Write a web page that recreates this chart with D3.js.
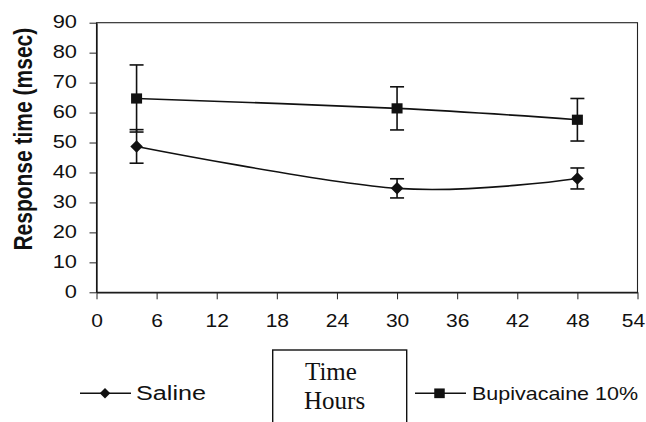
<!DOCTYPE html>
<html><head><meta charset="utf-8">
<script src="https://cdn.jsdelivr.net/npm/d3@7/dist/d3.min.js"></script>
<style>
html,body{margin:0;padding:0;background:#fff;}
svg{display:block;}
</style>
</head><body>
<svg id="chart" width="646" height="422"></svg>
<script>
// ---- data ----
const hours = [4, 30, 48];
const salineMean = [48.7, 34.7, 38.0];
const salineErr = [5.6, 3.2, 3.5];
const bupiMean = [64.7, 61.4, 57.6];
const bupiErr = [11.2, 7.2, 7.1];
const xTicks = [0, 6, 12, 18, 24, 30, 36, 42, 48, 54];
const yTicks = [0, 10, 20, 30, 40, 50, 60, 70, 80, 90];
const seriesNames = ["Saline", "Bupivacaine 10%"];
const xTitleLines = ["Time", "Hours"];
const yTitle = "Response time (msec)";

const svg = d3.select("#chart");
const x = d3.scaleLinear().domain([0, 54]).range([96.5, 637.5]);
const y = d3.scaleLinear().domain([0, 90]).range([292.3, 22.7]);
const SX = 1.25; // horizontal stretch of sans text in the reference

// plot frame
svg.append("rect")
  .attr("x", x(0)).attr("y", y(90))
  .attr("width", x(54) - x(0)).attr("height", y(0) - y(90))
  .attr("fill", "none").attr("stroke", "#222").attr("stroke-width", 1.1);

// y axis
const gy = svg.append("g").attr("transform", `translate(${x(0)},0)`)
  .call(d3.axisLeft(y).tickValues(yTicks).tickSize(7).tickSizeOuter(0));
gy.select(".domain").attr("stroke", "#111").attr("stroke-width", 1.3);
gy.selectAll(".tick line").attr("stroke", "#222").attr("stroke-width", 1);
gy.selectAll(".tick text")
  .attr("x", 0).attr("dy", 0)
  .attr("transform", `translate(-19.5,5.2) scale(${SX},1)`)
  .attr("fill", "#111")
  .style("font-family", "'Liberation Sans', Arial, sans-serif")
  .style("font-size", "17.5px");

// x axis
const gx = svg.append("g").attr("transform", `translate(0,${y(0)})`)
  .call(d3.axisBottom(x).tickValues(xTicks).tickSize(7).tickSizeOuter(0));
gx.select(".domain").attr("stroke", "#111").attr("stroke-width", 1.3);
gx.selectAll(".tick line").attr("stroke", "#222").attr("stroke-width", 1);
gx.selectAll(".tick text")
  .attr("y", 0).attr("dy", 0)
  .attr("transform", d => `translate(${d === 54 ? -4.5 : 0},35) scale(1.2,1)`)
  .attr("fill", "#111")
  .style("font-family", "'Liberation Sans', Arial, sans-serif")
  .style("font-size", "17.5px");

// y title
svg.append("text")
  .attr("transform", `translate(31.5,139.2) scale(1.2,1) rotate(-90)`)
  .attr("text-anchor", "middle")
  .attr("fill", "#111")
  .style("font-family", "'Liberation Sans', Arial, sans-serif")
  .style("font-weight", "bold")
  .style("font-size", "21px")
  .text(yTitle);

// series
const line = d3.line().x(d => x(d[0])).y(d => y(d[1])).curve(d3.curveCardinal.tension(0));
const series = [
  {name: seriesNames[0], mean: salineMean, err: salineErr, marker: "diamond"},
  {name: seriesNames[1], mean: bupiMean, err: bupiErr, marker: "square"}
];
const capW = 7;

function drawMarker(g, type, cx, cy, size) {
  if (type === "diamond") {
    const h = size / 2;
    g.append("path")
      .attr("d", `M${cx},${cy - h}L${cx + h},${cy}L${cx},${cy + h}L${cx - h},${cy}Z`)
      .attr("fill", "#111");
  } else {
    g.append("rect")
      .attr("x", cx - size / 2).attr("y", cy - size / 2 + 0.4)
      .attr("width", size).attr("height", size - 0.8)
      .attr("fill", "#111");
  }
}

series.forEach(s => {
  const pts = hours.map((h, i) => [h, s.mean[i]]);
  const g = svg.append("g");
  g.append("path").attr("d", line(pts))
    .attr("fill", "none").attr("stroke", "#111").attr("stroke-width", 1.6);
  hours.forEach((h, i) => {
    const cx = x(h), top = y(s.mean[i] + s.err[i]), bot = y(s.mean[i] - s.err[i]);
    g.append("line").attr("x1", cx).attr("x2", cx).attr("y1", top).attr("y2", bot)
      .attr("stroke", "#111").attr("stroke-width", 1.6);
    [top, bot].forEach(yy => g.append("line")
      .attr("x1", cx - capW).attr("x2", cx + capW).attr("y1", yy).attr("y2", yy)
      .attr("stroke", "#111").attr("stroke-width", 1.6));
    drawMarker(g, s.marker, cx, y(s.mean[i]), s.marker === "diamond" ? 12.5 : 11);
  });
});

// legend
const legY = 393.3;
const legItems = [
  {x1: 80, x2: 131, mx: 105, tx: 136, tl: 70, fs: 19.5, marker: "diamond", msize: 10.5},
  {x1: 415, x2: 466, mx: 439.5, tx: 472, tl: 166, fs: 18.5, marker: "square", msize: 10.5}
];
legItems.forEach((l, i) => {
  const g = svg.append("g");
  g.append("line").attr("x1", l.x1).attr("x2", l.x2).attr("y1", legY).attr("y2", legY)
    .attr("stroke", "#111").attr("stroke-width", 1.6);
  drawMarker(g, l.marker, l.mx, legY, l.msize);
  g.append("text").attr("x", l.tx).attr("y", 399.5)
    .attr("textLength", l.tl).attr("lengthAdjust", "spacingAndGlyphs")
    .attr("fill", "#111")
    .style("font-family", "'Liberation Sans', Arial, sans-serif")
    .style("font-size", l.fs + "px")
    .text(seriesNames[i]);
});

// x-axis title box
svg.append("rect").attr("x", 272.7).attr("y", 350).attr("width", 134).attr("height", 90)
  .attr("fill", "#fff").attr("stroke", "#111").attr("stroke-width", 1.4);
svg.append("text").attr("x", 305).attr("y", 380)
  .attr("fill", "#111")
  .style("font-family", "'Liberation Serif', 'Times New Roman', serif")
  .style("font-size", "25px")
  .text(xTitleLines[0]);
svg.append("text").attr("x", 304).attr("y", 409.3)
  .attr("fill", "#111")
  .style("font-family", "'Liberation Serif', 'Times New Roman', serif")
  .style("font-size", "25px")
  .text(xTitleLines[1]);
</script>
</body></html>
